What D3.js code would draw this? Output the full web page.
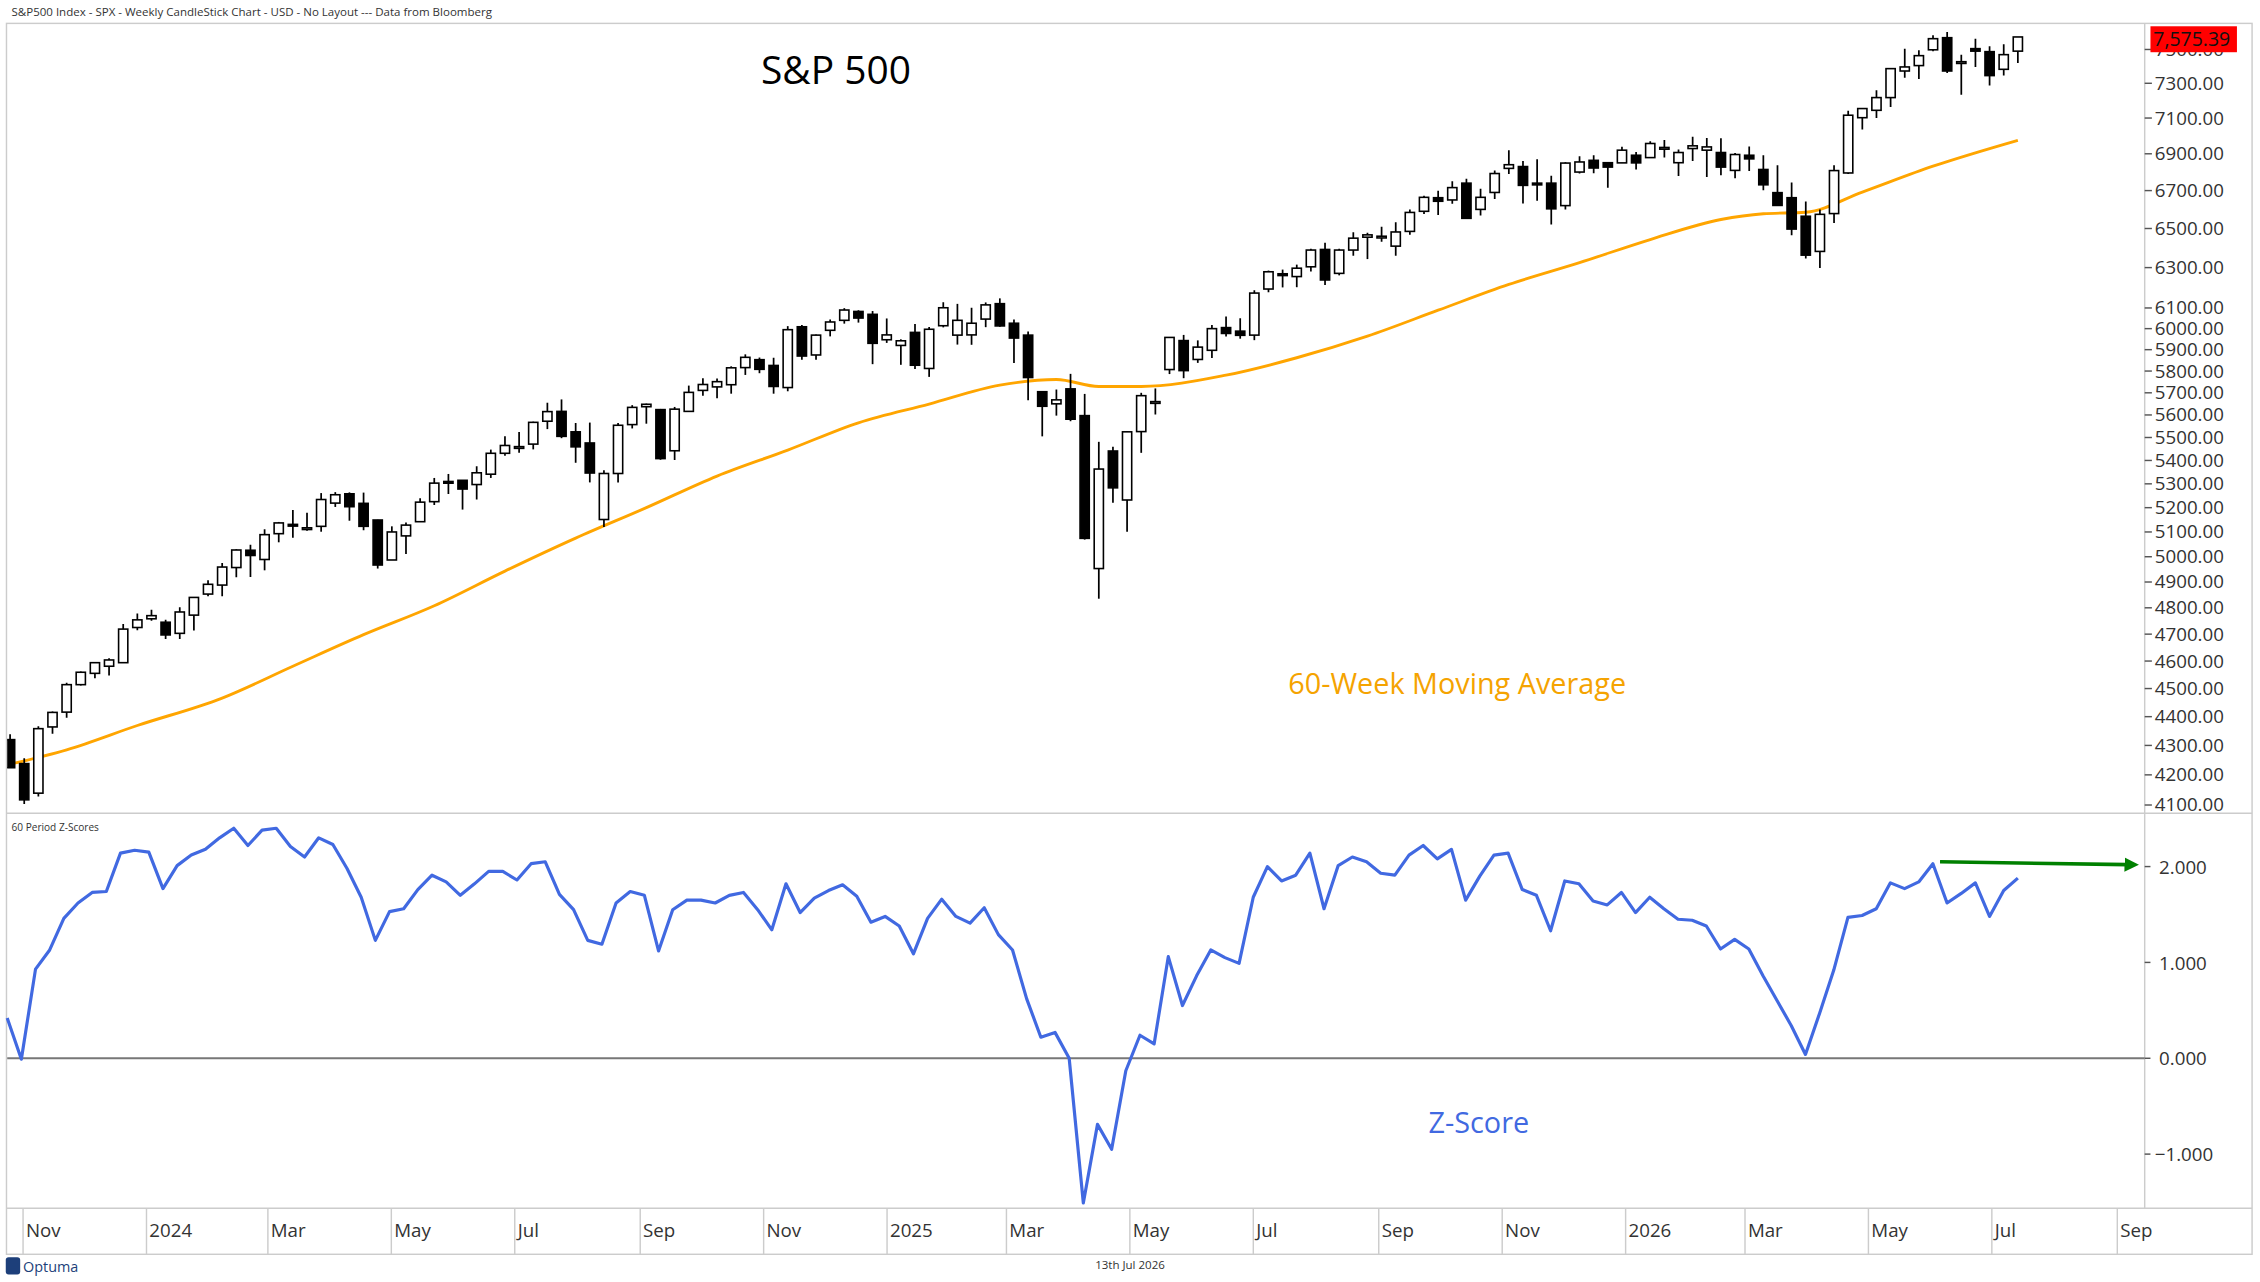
<!DOCTYPE html>
<html>
<head>
<meta charset="utf-8">
<script src="https://cdn.jsdelivr.net/npm/d3@7"></script>
<style>
  body { margin: 0; background: #fff; }
  text { font-family: "Open Sans", "DejaVu Sans", sans-serif; }
</style>
</head>
<body>
<svg id="chart" width="2260" height="1282" viewBox="0 0 1568 889"></svg>
<script>
// weekly candles, Oct 2023 -> Jul 2026
var opens = [4320,4238,4139,4364,4416,4514,4555,4581,4594,4725,4758,4745,4703,4772,4853,4888,4957,5026,4989,5093,
  5131,5111,5123,5219,5258,5218,5149,4987,5084,5142,5225,5310,5315,5297,5341,5431,5459,5471,5572,5616,
  5525,5476,5151,5344,5557,5637,5624,5442,5616,5711,5727,5737,5816,5853,5826,5724,6009,5875,5992,6040,
  6083,6069,5947,5920,5982,5812,6014,5969,5970,6046,6121,6026,5969,5705,5650,5718,5597,4953,5441,5232,
  5526,5655,5807,5943,5854,5897,6005,5988,5969,6193,6269,6255,6304,6392,6271,6389,6455,6457,6409,6485,
  6590,6662,6650,6740,6600,6690,6820,6830,6740,6740,6620,6800,6864,6851,6850,6892,6879,6935,6851,6929,
  6920,6907,6809,6892,6814,6689,6662,6564,6382,6578,6795,7102,7144,7217,7372,7404,7498,7571,7427,7505,
  7487,7382,7490];
var highs = [4339,4256,4366,4418,4521,4562,4596,4610,4738,4778,4793,4754,4802,4842,4907,4975,5030,5048,5111,5141,
  5190,5179,5261,5265,5264,5263,5150,5123,5139,5239,5325,5342,5315,5375,5447,5505,5524,5570,5655,5670,
  5564,5566,5358,5564,5644,5651,5627,5636,5733,5767,5765,5822,5878,5863,5862,6012,6018,5972,6044,6099,
  6089,6085,6049,5949,6022,6008,6128,6120,6101,6127,6147,6044,5986,5705,5715,5787,5695,5481,5459,5528,
  5700,5720,5959,5970,5944,6017,6059,6050,6187,6285,6290,6315,6395,6427,6395,6481,6478,6509,6533,6600,
  6672,6699,6750,6764,6710,6808,6920,6860,6870,6780,6853,6886,6892,6851,6939,6910,6970,6976,6924,6994,
  6988,6986,6905,6941,6892,6837,6743,6642,6600,6837,7141,7154,7260,7386,7505,7495,7585,7606,7469,7565,
  7519,7531,7575];
var lows = [4223,4103,4128,4340,4396,4511,4537,4547,4593,4715,4751,4682,4682,4714,4845,4845,4919,4920,4946,5058,
  5076,5105,5101,5203,5146,5107,4953,4990,5011,5142,5211,5257,5192,5234,5325,5420,5433,5448,5537,5497,
  5390,5306,5120,5306,5540,5561,5403,5402,5615,5687,5675,5696,5782,5790,5696,5707,5853,5853,5963,6024,
  6029,5832,5932,5829,5809,5773,6006,5924,5923,6007,6009,5837,5666,5505,5597,5572,5069,4835,5220,5101,
  5433,5602,5786,5767,5838,5861,5963,5952,5945,6177,6201,6202,6281,6213,6261,6360,6343,6432,6360,6467,
  6576,6570,6630,6550,6568,6655,6790,6631,6646,6521,6600,6792,6794,6715,6850,6814,6879,6879,6778,6860,
  6773,6782,6767,6806,6702,6621,6465,6346,6298,6529,6789,7035,7100,7163,7333,7325,7490,7361,7234,7396,
  7287,7345,7419];
var closes = [4224,4117,4358,4415,4514,4559,4594,4604,4719,4754,4770,4697,4784,4840,4891,4959,5027,5005,5089,5137,
  5124,5117,5234,5254,5204,5123,4967,5100,5128,5223,5303,5305,5278,5347,5431,5465,5460,5567,5615,5505,
  5459,5346,5344,5554,5634,5648,5408,5626,5702,5738,5751,5815,5864,5808,5729,5995,5870,5969,6032,6090,
  6051,5930,5970,5942,5827,5997,6101,6040,6026,6115,6013,5955,5770,5639,5668,5581,5074,5363,5283,5525,
  5687,5660,5958,5802,5912,6000,5977,5968,6173,6279,6260,6297,6389,6238,6389,6450,6467,6460,6482,6584,
  6664,6643,6716,6553,6664,6792,6840,6728,6734,6603,6849,6855,6822,6827,6920,6850,6957,6935,6907,6944,
  6938,6827,6896,6872,6731,6621,6497,6363,6574,6808,7116,7154,7217,7386,7396,7463,7565,7372,7427,7490,
  7345,7469,7575.39];

var maIdx = [0,4,9,15,20,25,30,35,40,45,50,55,60,65,70,74,77,80,86,91,96,101,106,111,116,121,124,127,131,136,142];
var maVal = [4236,4285,4369,4466,4581,4698,4808,4943,5075,5200,5333,5445,5565,5649,5735,5761,5729,5729,5781,5862,
  5964,6089,6216,6325,6443,6547,6577,6585,6692,6832,6975];

// 60 period z-scores
var zScores = [0.42,-0.01,0.93,1.13,1.46,1.62,1.73,1.74,2.14,2.17,2.15,1.77,2.01,2.12,2.18,2.30,2.40,2.22,2.38,2.40,
  2.21,2.10,2.30,2.23,1.98,1.68,1.23,1.53,1.56,1.76,1.91,1.84,1.70,1.82,1.95,1.95,1.86,2.03,2.05,1.71,
  1.55,1.23,1.19,1.62,1.74,1.70,1.12,1.55,1.65,1.65,1.62,1.70,1.73,1.55,1.34,1.82,1.52,1.67,1.75,1.81,
  1.69,1.42,1.48,1.38,1.09,1.46,1.66,1.48,1.41,1.57,1.29,1.13,0.62,0.22,0.27,0.00,-1.51,-0.69,-0.95,-0.13,
  0.24,0.15,1.06,0.55,0.86,1.13,1.05,0.99,1.68,2.00,1.85,1.91,2.14,1.56,2.01,2.10,2.05,1.93,1.91,2.12,
  2.22,2.08,2.18,1.65,1.90,2.12,2.14,1.76,1.70,1.33,1.85,1.82,1.64,1.60,1.73,1.52,1.68,1.56,1.45,1.44,
  1.38,1.14,1.24,1.14,0.86,0.60,0.34,0.04,0.47,0.92,1.47,1.49,1.56,1.83,1.77,1.84,2.03,1.62,1.72,1.83,
  1.48,1.75,1.88];

var priceTicks = [7500,7300,7100,6900,6700,6500,6300,6100,6000,5900,5800,5700,5600,5500,5400,5300,5200,5100,5000,
  4900,4800,4700,4600,4500,4400,4300,4200,4100];
var zTicks = [2, 1, 0, -1];
var lastPrice = "7,575.39";

var svg = d3.select("#chart");
var plotL = 5, plotR = 1488, topT = 16, topB = 564, botB = 838, axB = 870;

var x = d3.scaleLinear().domain([0, closes.length - 1]).range([7, 1400]);
var xz = d3.scaleLinear().domain([0, zScores.length - 1]).range([5, 1400]);
var y = d3.scaleLog().domain([4060, 7720]).range([566.8, 9]);
var yz = d3.scaleLinear().domain([-1, 2]).range([800.5, 601]);
var xt = d3.scaleTime().domain([new Date(2023, 10, 1), new Date(2026, 8, 1)]).range([16, 1469]);

// header
svg.append("text").attr("x", 8).attr("y", 11).attr("font-size", 8).attr("fill", "#333")
  .text("S&P500 Index - SPX - Weekly CandleStick Chart - USD - No Layout --- Data from Bloomberg");

// frames
svg.append("rect").attr("x", 4.5).attr("y", topT).attr("width", 1558).attr("height", axB - topT)
  .attr("fill", "none").attr("stroke", "#ccc");
svg.append("line").attr("x1", 4.5).attr("x2", 1562.5).attr("y1", topB).attr("y2", topB).attr("stroke", "#ccc");
svg.append("line").attr("x1", 4.5).attr("x2", 1562.5).attr("y1", botB).attr("y2", botB).attr("stroke", "#ccc");
svg.append("line").attr("x1", plotR).attr("x2", plotR).attr("y1", topT).attr("y2", botB).attr("stroke", "#ccc");

// x axis months
var months = xt.ticks(d3.timeMonth.every(2));
var xa = svg.append("g");
months.forEach(function (d) {
  var px = xt(d);
  xa.append("line").attr("x1", px).attr("x2", px).attr("y1", botB).attr("y2", axB).attr("stroke", "#ccc");
  var lab = d.getMonth() === 0 ? d3.timeFormat("%Y")(d) : d3.timeFormat("%b")(d);
  xa.append("text").attr("x", px + 2).attr("y", 858).attr("font-size", 13).attr("fill", "#333").text(lab);
});

// price axis
var ya = svg.append("g");
priceTicks.forEach(function (v) {
  ya.append("line").attr("x1", plotR).attr("x2", plotR + 5).attr("y1", y(v)).attr("y2", y(v)).attr("stroke", "#555");
  ya.append("text").attr("x", plotR + 7).attr("y", y(v) + 4.5).attr("font-size", 13).attr("fill", "#333")
    .text(d3.format(".2f")(v));
});
svg.append("rect").attr("x", 1492).attr("y", 18).attr("width", 60).attr("height", 18).attr("fill", "#ff0000");
svg.append("text").attr("x", 1494).attr("y", 32).attr("font-size", 13.5).attr("fill", "#111").text(lastPrice);

// clip for top panel
svg.append("clipPath").attr("id", "clipTop").append("rect")
  .attr("x", plotL).attr("y", topT).attr("width", plotR - plotL).attr("height", topB - topT);
var topG = svg.append("g").attr("clip-path", "url(#clipTop)");

// moving average
var ma = maIdx.map(function (d, i) { return [d, maVal[i]]; });
topG.append("path").datum(ma).attr("fill", "none").attr("stroke", "#ffa500").attr("stroke-width", 2)
  .attr("d", d3.line().x(function (d) { return x(d[0]); }).y(function (d) { return y(d[1]); }).curve(d3.curveMonotoneX));

// candles
var cw = 6.4;
var c = topG.selectAll("g.candle").data(closes).enter().append("g").attr("class", "candle");
c.append("line").attr("x1", function (d, i) { return x(i); }).attr("x2", function (d, i) { return x(i); })
  .attr("y1", function (d, i) { return y(highs[i]); }).attr("y2", function (d, i) { return y(lows[i]); })
  .attr("stroke", "#000").attr("stroke-width", 1.2);
c.append("rect").attr("x", function (d, i) { return x(i) - cw / 2; })
  .attr("y", function (d, i) { return y(Math.max(opens[i], d)); })
  .attr("width", cw)
  .attr("height", function (d, i) { return Math.max(1.2, y(Math.min(opens[i], d)) - y(Math.max(opens[i], d))); })
  .attr("fill", function (d, i) { return d >= opens[i] ? "#fff" : "#000"; })
  .attr("stroke", "#000").attr("stroke-width", 1.1);

// labels in top panel
svg.append("text").attr("x", 580).attr("y", 58).attr("text-anchor", "middle").attr("font-size", 27)
  .attr("fill", "#000").text("S&P 500");
svg.append("text").attr("x", 1011).attr("y", 481).attr("text-anchor", "middle").attr("font-size", 20)
  .attr("fill", "#f5a300").text("60-Week Moving Average");

// z panel
svg.append("text").attr("x", 8).attr("y", 576).attr("font-size", 7).attr("fill", "#333").text("60 Period Z-Scores");
zTicks.forEach(function (v) {
  svg.append("line").attr("x1", plotR).attr("x2", plotR + 4).attr("y1", yz(v)).attr("y2", yz(v)).attr("stroke", "#555");
  svg.append("text").attr("x", plotR + (v < 0 ? 7 : 10)).attr("y", yz(v) + 5).attr("font-size", 13).attr("fill", "#333")
    .text(d3.format(".3f")(v));
});
svg.append("line").attr("x1", plotL).attr("x2", plotR).attr("y1", yz(0)).attr("y2", yz(0))
  .attr("stroke", "#777").attr("stroke-width", 1.4);
svg.append("path").datum(zScores).attr("fill", "none").attr("stroke", "#4169e1").attr("stroke-width", 2.2)
  .attr("stroke-linejoin", "round")
  .attr("d", d3.line().x(function (d, i) { return xz(i); }).y(function (d) { return yz(d); }));
svg.append("text").attr("x", 1026).attr("y", 786).attr("text-anchor", "middle").attr("font-size", 20)
  .attr("fill", "#4169e1").text("Z-Score");

// green arrow
svg.append("defs").append("marker").attr("id", "arr").attr("viewBox", "0 0 10 10").attr("refX", 2).attr("refY", 5)
  .attr("markerWidth", 4).attr("markerHeight", 4).attr("orient", "auto")
  .append("path").attr("d", "M0,0L10,5L0,10Z").attr("fill", "#008000");
svg.append("line").attr("x1", 1346).attr("y1", yz(2.05)).attr("x2", 1476).attr("y2", yz(2.02))
  .attr("stroke", "#008000").attr("stroke-width", 2.5).attr("marker-end", "url(#arr)");

// footer
svg.append("rect").attr("x", 4).attr("y", 872).attr("width", 10).attr("height", 12).attr("rx", 2).attr("fill", "#1d3f7a");
svg.append("text").attr("x", 16).attr("y", 882).attr("font-size", 10).attr("fill", "#1d3f7a").text("Optuma");
svg.append("text").attr("x", 784).attr("y", 880).attr("text-anchor", "middle").attr("font-size", 8)
  .attr("fill", "#333").text("13th Jul 2026");
</script>
</body>
</html>
